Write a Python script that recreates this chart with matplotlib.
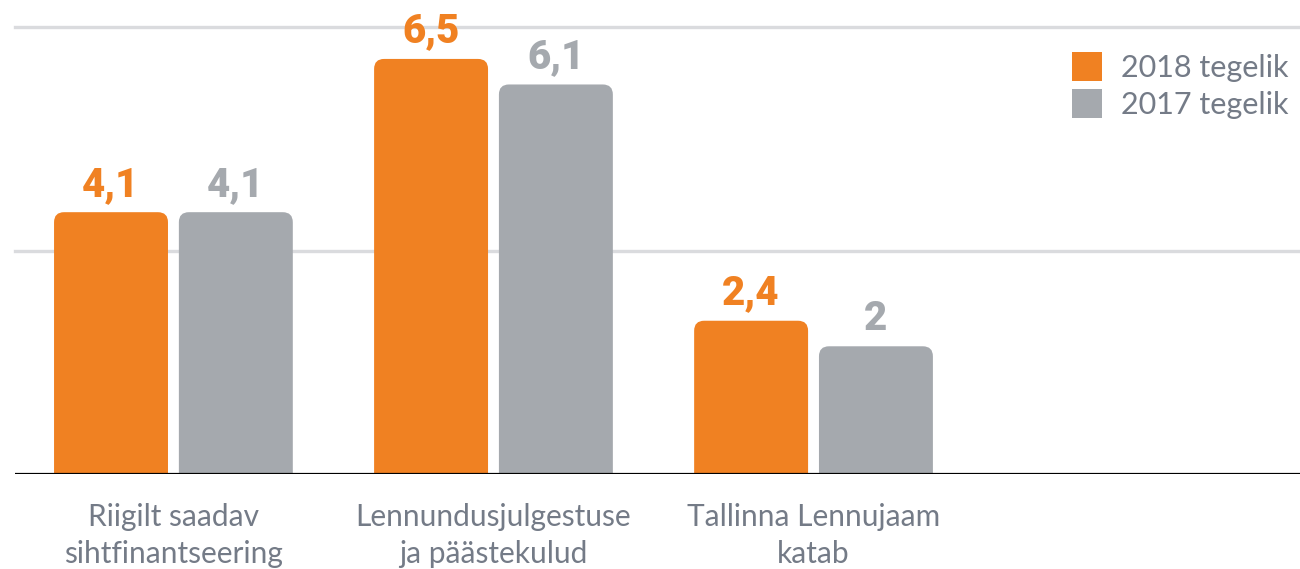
import matplotlib
matplotlib.use("Agg")
import matplotlib.pyplot as plt
from matplotlib.patches import FancyBboxPatch, Patch

# data
categories = ["Riigilt saadav\nsihtfinantseering",
              "Lennundusjulgestuse\nja päästekulud",
              "Tallinna Lennujaam\nkatab"]
series_names = ["2018 tegelik", "2017 tegelik"]
values_2018 = [4.1, 6.5, 2.4]
values_2017 = [4.1, 6.1, 2.0]
labels_2018 = ["4,1", "6,5", "2,4"]
labels_2017 = ["4,1", "6,1", "2"]

ORANGE = "#F08122"
GREY = "#A5A9AE"
TEXT = "#747B87"

W, H = 1300, 569
fig = plt.figure(figsize=(W / 100, H / 100), dpi=100)
ax = fig.add_axes([15 / W, (H - 474) / H, (W - 15) / W, (474 - 27) / H])
ax.set_xlim(-0.495, 3.52)
ax.set_ylim(0, 7)
for s in ax.spines.values():
    s.set_visible(False)
ax.set_xticks([])
ax.set_yticks([])

# gridlines + baseline
for g in [3.5, 7.0]:
    ax.axhline(g, color="#DADBDE", lw=2.4, zorder=0, clip_on=False)
ax.axhline(0, color="black", lw=1.6, zorder=5)

bar_w = 0.356
offset = 0.195
# rounding in x units, aspect converts to y units
x_unit_px = (W - 15) / (3.52 + 0.495)
y_unit_px = (474 - 27) / 7
aspect = x_unit_px / y_unit_px
r = 10 / x_unit_px

for vals, labs, col, dx in [(values_2018, labels_2018, ORANGE, -offset),
                            (values_2017, labels_2017, GREY, offset)]:
    bars = ax.bar([i + dx for i in range(len(vals))], vals, width=bar_w,
                  color=col, alpha=0)
    for b, lab in zip(bars, labs):
        x0, w, h = b.get_x(), b.get_width(), b.get_height()
        p = FancyBboxPatch((x0 + r, -1 + r * aspect), w - 2 * r, h + 1 - 2 * r * aspect,
                           boxstyle="round,pad=%f,rounding_size=%f" % (r, r),
                           mutation_aspect=aspect, fc=col, ec="none", zorder=2)
        ax.add_patch(p)
        ax.annotate(lab, (x0 + w / 2, h), xytext=(0, 6), textcoords="offset points",
                    ha="center", va="bottom", fontsize=29, fontweight="heavy",
                    family="Roboto", color=col, clip_on=False)

for i, c in enumerate(categories):
    ax.text(i, -0.45, c, ha="center", va="top", fontsize=21.5, color=TEXT,
            family="Lato", linespacing=1.4, clip_on=False)

handles = [Patch(fc=ORANGE, ec="none"), Patch(fc=GREY, ec="none")]
fig.legend(handles, series_names, loc="upper right", bbox_to_anchor=(1.012, 0.957),
           frameon=False, handlelength=1.0, handleheight=1.1,
           handletextpad=0.6, labelspacing=0.22, labelcolor=TEXT,
           prop={"family": "Lato", "size": 22})

fig.savefig("out.png", dpi=100)
